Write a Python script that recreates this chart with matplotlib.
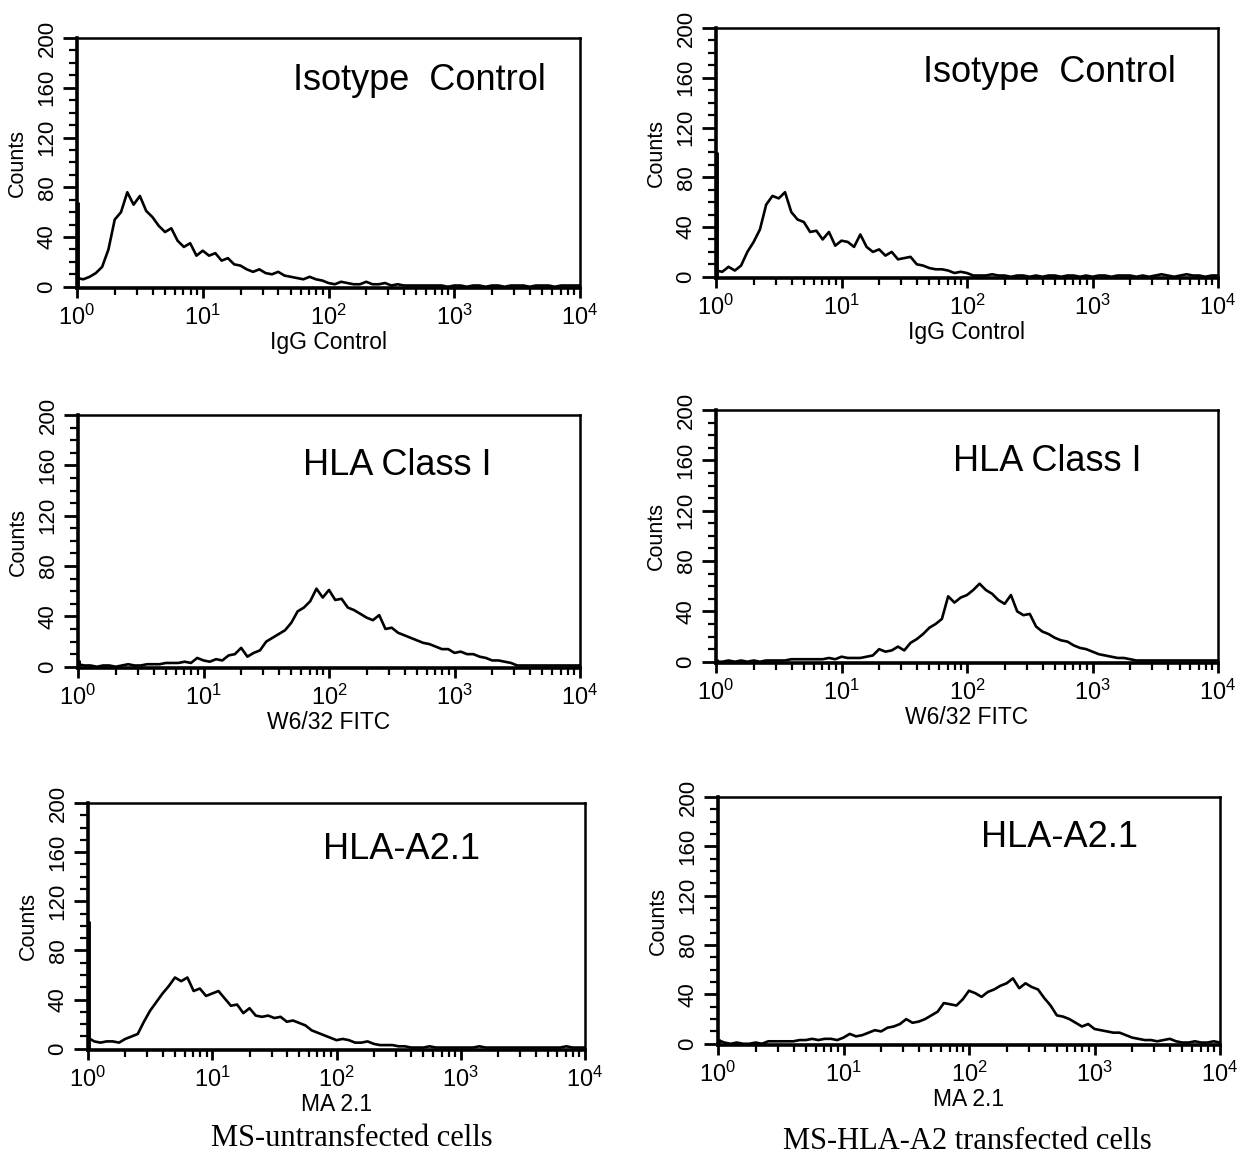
import numpy as np
import matplotlib
matplotlib.use("Agg")
import matplotlib.pyplot as plt
from matplotlib.ticker import LogLocator, MultipleLocator, LogFormatterMathtext, NullFormatter

# narrow face for the tick numbers, regular for everything else
NARROW = ['Liberation Sans Narrow', 'Liberation Sans', 'DejaVu Sans']
REGULAR = ['Liberation Sans', 'DejaVu Sans']
SERIF = ['Liberation Serif', 'DejaVu Serif']
plt.rcParams['font.family'] = NARROW

# fluorescence channels, 10^0 .. 10^4 (0.05 decade bins)
channels = np.logspace(0, 4, 81)

# counts
iso_untrans = [7, 6, 8, 11, 16, 30, 54, 60, 76, 66, 73, 61, 56, 49, 44, 47, 37, 32, 35, 25,
               29, 25, 27, 21, 23, 18, 17, 14, 12, 14, 11, 10, 12, 9, 8, 7, 6, 8, 6, 5,
               3, 2, 4, 3, 2, 2, 4, 2, 2, 3, 1, 2, 1, 1, 1, 1, 1, 1, 1, 0,
               1, 1, 0, 1, 1, 0, 1, 1, 0, 1, 1, 1, 0, 1, 1, 1, 0, 1, 1, 1, 1]
iso_trans = [5, 4, 8, 5, 9, 20, 28, 38, 58, 65, 63, 68, 52, 46, 44, 36, 37, 30, 36, 25,
             29, 28, 24, 34, 24, 20, 22, 17, 20, 14, 15, 16, 10, 9, 7, 6, 6, 5, 3, 4,
             3, 1, 1, 1, 2, 1, 1, 0, 1, 1, 0, 1, 0, 1, 1, 0, 1, 1, 0, 1,
             0, 1, 1, 0, 1, 1, 1, 0, 1, 0, 1, 2, 1, 0, 1, 2, 1, 1, 0, 1, 1]
hla_untrans = [2, 1, 1, 0, 1, 1, 0, 1, 2, 1, 1, 2, 2, 2, 3, 3, 3, 4, 3, 7,
               5, 4, 6, 5, 9, 10, 15, 8, 11, 13, 20, 23, 26, 29, 35, 44, 47, 52, 62, 55,
               61, 53, 54, 47, 45, 42, 39, 37, 41, 30, 31, 27, 25, 23, 21, 19, 18, 16, 14, 14,
               11, 12, 10, 10, 8, 7, 5, 5, 4, 3, 1, 1, 1, 1, 1, 1, 1, 1, 1, 1, 1]
hla_trans = [0, 0, 1, 0, 1, 0, 1, 0, 1, 1, 1, 1, 2, 2, 2, 2, 2, 2, 3, 2,
             4, 3, 3, 3, 4, 5, 10, 8, 9, 12, 9, 15, 18, 22, 27, 30, 34, 52, 47, 51,
             53, 57, 62, 57, 54, 49, 46, 53, 40, 37, 38, 28, 24, 22, 19, 17, 16, 13, 11, 10,
             8, 6, 5, 4, 3, 3, 2, 1, 1, 1, 1, 1, 1, 1, 1, 1, 1, 1, 1, 1, 1]
a2_untrans = [9, 6, 5, 6, 6, 5, 8, 10, 12, 22, 31, 38, 45, 51, 58, 55, 58, 47, 49, 43,
              45, 47, 41, 35, 36, 29, 33, 27, 26, 27, 25, 26, 22, 23, 21, 19, 15, 13, 11, 9,
              7, 8, 7, 5, 5, 6, 4, 3, 3, 3, 2, 2, 1, 1, 1, 2, 1, 1, 1, 1,
              1, 1, 1, 2, 1, 1, 1, 1, 1, 1, 1, 1, 1, 1, 1, 1, 1, 2, 1, 1, 1]
a2_trans = [3, 1, 0, 1, 0, 0, 1, 0, 2, 2, 2, 2, 2, 3, 3, 4, 3, 4, 4, 3,
            5, 8, 6, 7, 9, 11, 10, 13, 14, 16, 20, 17, 18, 20, 23, 26, 33, 32, 31, 36,
            43, 41, 38, 42, 44, 47, 49, 53, 45, 49, 46, 44, 37, 31, 23, 22, 20, 17, 14, 16,
            12, 11, 10, 9, 9, 7, 5, 4, 3, 3, 2, 3, 4, 2, 1, 1, 2, 1, 1, 2, 1]

# pile-up in the first channel
edge_spike = [68, 100, 5, 2, 104, 4]

titles = ["Isotype  Control", "Isotype  Control", "HLA Class I", "HLA Class I",
          "HLA-A2.1", "HLA-A2.1"]
xlabels = ["IgG Control", "IgG Control", "W6/32 FITC", "W6/32 FITC", "MA 2.1", "MA 2.1"]
captions = ["MS-untransfected cells", "MS-HLA-A2 transfected cells"]

series = [iso_untrans, iso_trans, hla_untrans, hla_trans, a2_untrans, a2_trans]

W, H = 1243, 1156
boxes = [(77, 580, 38, 288), (716, 1218, 28, 278),
         (78, 580, 415, 668), (716, 1218, 410, 663),
         (88, 585, 803, 1050), (718, 1220, 797, 1045)]
title_pos = [(0.68, 0.83), (0.665, 0.82), (0.635, 0.80), (0.66, 0.795), (0.63, 0.81), (0.68, 0.835)]
caption_pos = [(0.53, -0.36), (0.496, -0.39)]

fig = plt.figure(figsize=(W / 100, H / 100), dpi=100)

for i, (l, r, t, b) in enumerate(boxes):
    ax = fig.add_axes([l / W, 1 - b / H, (r - l) / W, (b - t) / H])
    ax.plot(channels, series[i], color='black', lw=1.9)
    ax.vlines(channels[0], 0, edge_spike[i], color='black', lw=3.5)
    ax.set_xscale('log')
    ax.set_xlim(1, 1e4)
    ax.set_ylim(-1, 200)

    ax.xaxis.set_major_locator(LogLocator(base=10, numticks=10))
    ax.xaxis.set_major_formatter(LogFormatterMathtext())
    ax.xaxis.set_minor_locator(LogLocator(base=10, subs=np.arange(2, 10), numticks=20))
    ax.xaxis.set_minor_formatter(NullFormatter())
    ax.yaxis.set_major_locator(MultipleLocator(40))
    ax.yaxis.set_minor_locator(MultipleLocator(10))

    ax.tick_params(axis='x', which='major', direction='out', length=7, width=2, labelsize=17, pad=5)
    ax.tick_params(axis='x', which='minor', direction='out', length=5, width=1.6)
    ax.tick_params(axis='y', which='major', direction='out', length=10, width=2, labelsize=16,
                   labelrotation=90, pad=4)
    ax.tick_params(axis='y', which='minor', direction='out', length=6, width=1.6)
    for lab in ax.get_yticklabels():
        lab.set_va('center')

    for side in ['left', 'bottom']:
        ax.spines[side].set_linewidth(2.6)
    for side in ['top', 'right']:
        ax.spines[side].set_linewidth(1.8)

    ax.set_ylabel("Counts", fontsize=15.5, labelpad=6, family=REGULAR)
    ax.set_xlabel(xlabels[i], fontsize=16.5, labelpad=1, family=REGULAR)
    ax.text(title_pos[i][0], title_pos[i][1], titles[i], transform=ax.transAxes,
            ha='center', va='center', fontsize=26, family=REGULAR)

    if i >= 4:
        cx, cy = caption_pos[i - 4]
        ax.text(cx, cy, captions[i - 4], transform=ax.transAxes, ha='center', va='center',
                fontsize=22, family=SERIF)

fig.savefig("out.png", dpi=100, facecolor='white')
